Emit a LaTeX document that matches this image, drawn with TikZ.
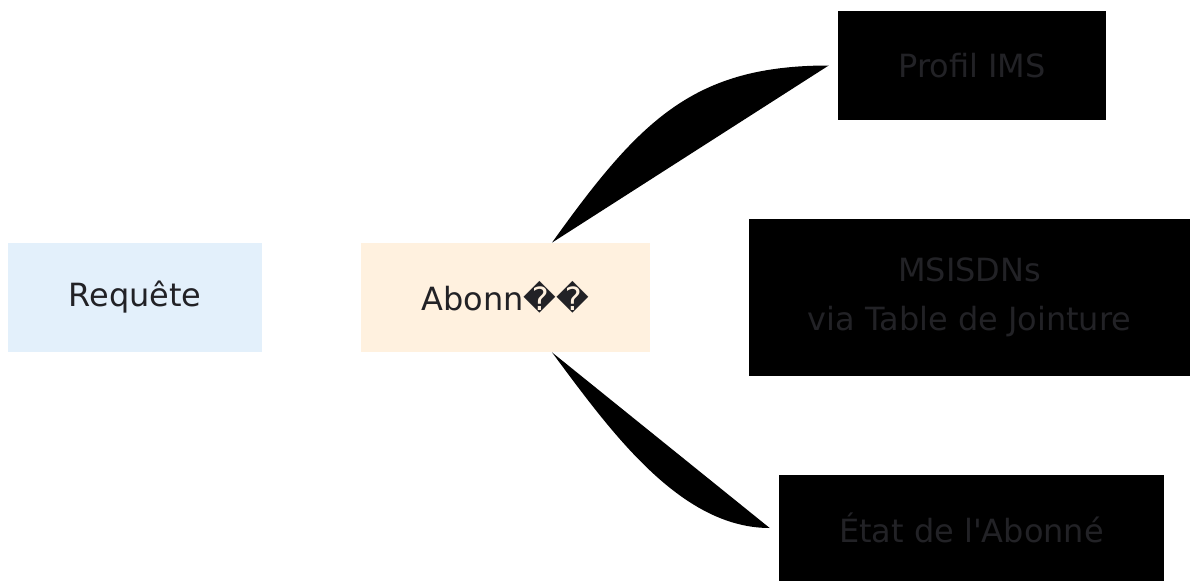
\documentclass[tikz,border=0pt]{standalone}
\usepackage{fontspec}
\setmainfont{DejaVu Sans}
\usepackage{tikz}
\usetikzlibrary{positioning, calc}
\definecolor{mytext}{RGB}{34,34,38}
\definecolor{hdrblue}{RGB}{227,240,251}
\definecolor{hdramber}{RGB}{255,241,223}
\tikzset{
  block/.style={rectangle, fill=hdrblue, text=mytext,
    align=center, minimum height=2.18cm, inner sep=0pt,
    font=\fontsize{18.2}{27.8}\selectfont},
  amberblock/.style={block, fill=hdramber},
  darkblock/.style={block, fill=black},
  wedge/.style={fill=black}
}

\begin{document}
\begin{tikzpicture}[x=0.02cm, y=-0.02cm]
  \useasboundingbox (0,0) rectangle (1190,581);
  % Request and subscriber
  \node[block, minimum width=5.08cm] (req) at (135,297.5) {Requête};
  \node[amberblock, minimum width=5.78cm] (abo) at (505.5,297.5) {Abonn��};
  % Targets
  \node[darkblock, minimum width=5.36cm] (ims) at (972,65.5) {Profil IMS};
  \node[darkblock, minimum width=8.82cm, minimum height=3.14cm] (msi) at (969.5,297.5) {MSISDNs\\via Table de Jointure};
  \node[darkblock, minimum width=7.7cm, minimum height=2.12cm] (eta) at (971.5,528) {État de l\textquotesingle Abonné};
  % Links
  \coordinate (imsin) at ([xshift=-0.18cm]ims.west);
  \coordinate (etain) at ([xshift=-0.18cm]eta.west);
  \fill[wedge] ([xshift=0.93cm]abo.north) .. controls +(88,-123) and +(-135,0) .. (imsin) -- cycle;
  \fill[wedge] ([xshift=0.93cm]abo.south) .. controls +(58,78) and +(-90,0) .. (etain) -- cycle;
\end{tikzpicture}
\end{document}
